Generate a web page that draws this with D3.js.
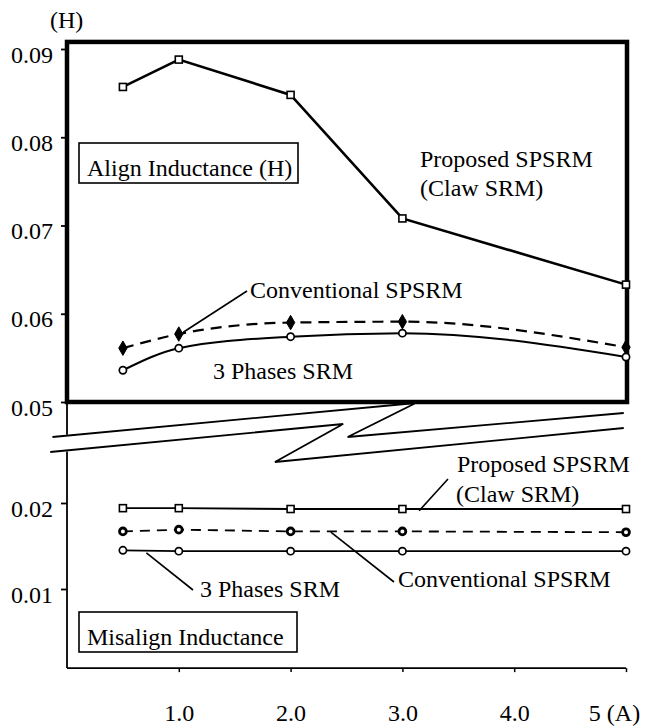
<!DOCTYPE html>
<html>
<head>
<meta charset="utf-8">
<script src="https://cdn.jsdelivr.net/npm/d3@7"></script>
<style>
  body { margin: 0; background: #fff; }
  svg text { font-family: "Liberation Serif", "Times New Roman", serif; font-size: 24px; fill: #000; }
</style>
</head>
<body>
<div id="chartArea"></div>
<script>
// Inductance vs current (A)
const currents = [0.5, 1, 2, 3, 5];

const alignProposed     = [0.0857, 0.0888, 0.0848, 0.0708, 0.0633];
const alignConventional = [0.0561, 0.0577, 0.0590, 0.0591, 0.0562];
const alignThreePhase   = [0.0536, 0.0561, 0.0574, 0.0578, 0.0551];

const misalignProposed     = [0.0194, 0.0194, 0.0193, 0.0193, 0.0193];
const misalignConventional = [0.0167, 0.0169, 0.0167, 0.0167, 0.0166];
const misalignThreePhase   = [0.0145, 0.0144, 0.0144, 0.0144, 0.0144];

const upperTicks = [0.05, 0.06, 0.07, 0.08, 0.09];
const lowerTicks = [0.01, 0.02];
const xTicks = [1, 2, 3, 4, 5];
const xTickLabels = ['1.0', '2.0', '3.0', '4.0', '5 (A)'];

function drawGraph() {
    let width = 646, height = 728;

    let svg = d3.select('#chartArea')
        .append('svg')
            .attr('width', width)
            .attr('height', height);

    let xScale = d3.scaleLinear().domain([0, 5]).range([67, 626]);
    // upper panel (align)
    let yUp = d3.scaleLinear().domain([0.05, 0.09]).range([402, 49]);
    // lower panel (misalign)
    let yLow = d3.scaleLinear().domain([0.01, 0.02]).range([589, 503]);

    let upTop = yUp(0.0908), upBottom = yUp(0.05);
    let lowBase = yLow(0.0008);
    let x0 = xScale(0), xEnd = xScale(5) + 1;

    let zip = (vals) => currents.map((c, i) => ({x: c, v: vals[i]}));

    // ---- break symbol (two zig-zag lines between the panels)
    let breakTop = [[-0.13, 35], [3.12, 1], [2.51, 35], [4.98, 11]];
    let breakBottom = [[-0.15, 50], [2.47, 22], [1.86, 60], [4.98, 26]];
    let toPx = pts => pts.map(p => [xScale(p[0]), upBottom + p[1]]);
    let bt = toPx(breakTop), bb = toPx(breakBottom);
    let yAt = (a, b, xx) => a[1] + (xx - a[0]) * (b[1] - a[1]) / (b[0] - a[0]);

    // lower left axis, interrupted by the break
    svg.append('line')
        .attr('x1', x0).attr('x2', x0)
        .attr('y1', upBottom).attr('y2', yAt(bt[0], bt[1], x0) - 1)
        .attr('stroke', '#000').attr('stroke-width', 1.8);
    svg.append('line')
        .attr('x1', x0).attr('x2', x0)
        .attr('y1', yAt(bb[0], bb[1], x0) + 1).attr('y2', lowBase)
        .attr('stroke', '#000').attr('stroke-width', 1.8);

    [bt, bb].forEach(pts => {
        svg.append('path')
            .attr('d', d3.line()(pts))
            .attr('fill', 'none')
            .attr('stroke', '#000')
            .attr('stroke-width', 1.8)
            .attr('stroke-linejoin', 'miter');
    });

    // bottom axis
    svg.append('line')
        .attr('x1', x0).attr('x2', xScale(5))
        .attr('y1', lowBase).attr('y2', lowBase)
        .attr('stroke', '#000').attr('stroke-width', 1.8);

    let xAxis = svg.append('g')
        .attr('transform', 'translate(0,' + lowBase + ')')
        .call(d3.axisBottom(xScale)
            .tickValues(xTicks)
            .tickSize(4)
            .tickFormat((d, i) => xTickLabels[i]));
    xAxis.select('.domain').remove();
    xAxis.selectAll('line').attr('stroke-width', 1.5);
    xAxis.selectAll('text')
        .attr('y', 53).attr('dy', 0)
        .attr('dx', (d, i) => i === xTicks.length - 1 ? -12 : 0)
        .style('font-size', '24px')
        .style('font-family', '"Liberation Serif", "Times New Roman", serif');

    // y axes
    let upAxis = svg.append('g')
        .attr('transform', 'translate(' + x0 + ',0)')
        .call(d3.axisLeft(yUp).tickValues(upperTicks).tickSize(6).tickPadding(8)
            .tickFormat(d3.format('.2f')));
    let lowAxis = svg.append('g')
        .attr('transform', 'translate(' + x0 + ',0)')
        .call(d3.axisLeft(yLow).tickValues(lowerTicks).tickSize(6).tickPadding(8)
            .tickFormat(d3.format('.2f')));
    [upAxis, lowAxis].forEach(g => {
        g.select('.domain').remove();
        g.selectAll('line').attr('stroke-width', 1.8);
        g.selectAll('text')
            .attr('dy', '0.55em')
            .style('font-size', '24px')
            .style('font-family', '"Liberation Serif", "Times New Roman", serif');
    });

    svg.append('text').attr('x', 50).attr('y', 28).text('(H)');

    // ---- upper series
    let lineUp = d3.line().x(d => xScale(d.x)).y(d => yUp(d.v));
    let curveUp = d3.line().x(d => xScale(d.x)).y(d => yUp(d.v)).curve(d3.curveMonotoneX);
    let lineLow = d3.line().x(d => xScale(d.x)).y(d => yLow(d.v));

    svg.append('path').attr('d', lineUp(zip(alignProposed)))
        .attr('fill', 'none').attr('stroke', '#000').attr('stroke-width', 2.6);
    svg.append('path').attr('d', curveUp(zip(alignConventional)))
        .attr('fill', 'none').attr('stroke', '#000').attr('stroke-width', 2.2)
        .attr('stroke-dasharray', '11,7');
    svg.append('path').attr('d', curveUp(zip(alignThreePhase)))
        .attr('fill', 'none').attr('stroke', '#000').attr('stroke-width', 2);

    // ---- lower series
    svg.append('path').attr('d', lineLow(zip(misalignProposed)))
        .attr('fill', 'none').attr('stroke', '#000').attr('stroke-width', 1.8);
    svg.append('path').attr('d', lineLow(zip(misalignConventional)))
        .attr('fill', 'none').attr('stroke', '#000').attr('stroke-width', 1.8)
        .attr('stroke-dasharray', '10,7');
    svg.append('path').attr('d', lineLow(zip(misalignThreePhase)))
        .attr('fill', 'none').attr('stroke', '#000').attr('stroke-width', 1.8);

    // upper box (thick frame)
    svg.append('rect')
        .attr('x', x0).attr('y', upTop)
        .attr('width', xEnd - x0).attr('height', upBottom - upTop)
        .attr('fill', 'none').attr('stroke', '#000').attr('stroke-width', 4.5);

    // ---- markers
    function squares(vals, y) {
        svg.selectAll(null).data(zip(vals)).enter().append('rect')
            .attr('x', d => xScale(d.x) - 3.5).attr('y', d => y(d.v) - 3.5)
            .attr('width', 7).attr('height', 7)
            .attr('fill', '#fff').attr('stroke', '#000').attr('stroke-width', 1.6);
    }
    function circles(vals, y, r, sw) {
        svg.selectAll(null).data(zip(vals)).enter().append('circle')
            .attr('cx', d => xScale(d.x)).attr('cy', d => y(d.v)).attr('r', r)
            .attr('fill', '#fff').attr('stroke', '#000').attr('stroke-width', sw);
    }
    function diamonds(vals, y) {
        svg.selectAll(null).data(zip(vals)).enter().append('path')
            .attr('d', d3.symbol().type(d3.symbolDiamond).size(60))
            .attr('transform', d => 'translate(' + xScale(d.x) + ',' + y(d.v) + ')')
            .attr('fill', '#000').attr('stroke', '#000').attr('stroke-width', 1);
    }

    squares(alignProposed, yUp);
    diamonds(alignConventional, yUp);
    circles(alignThreePhase, yUp, 3.6, 1.7);

    squares(misalignProposed, yLow);
    circles(misalignConventional, yLow, 3.4, 2.8);
    circles(misalignThreePhase, yLow, 3.6, 1.7);

    // ---- annotations
    function label(txt, x, y) {
        svg.append('text').attr('x', x).attr('y', y).text(txt);
    }
    function leader(x1, y1, x2, y2) {
        svg.append('line')
            .attr('x1', x1).attr('y1', y1).attr('x2', x2).attr('y2', y2)
            .attr('stroke', '#000').attr('stroke-width', 1.6);
    }
    function boxedLabel(txt, x, y, w, h) {
        svg.append('rect').attr('x', x).attr('y', y).attr('width', w).attr('height', h)
            .attr('fill', '#fff').attr('stroke', '#000').attr('stroke-width', 1.6);
        svg.append('text').attr('x', x + 8).attr('y', y + h - 7).text(txt);
    }

    boxedLabel('Align Inductance (H)', 79, 143, 219, 40);
    label('Proposed SPSRM', 420, 167);
    label('(Claw SRM)', 420, 196);
    label('Conventional SPSRM', 250, 298);
    leader(247, 291, xScale(1.04), yUp(0.0579));
    label('3 Phases SRM', 213, 379);

    label('Proposed SPSRM', 457, 472);
    label('(Claw SRM)', 456, 502);
    leader(448, 479, xScale(3.15), yLow(0.0191));
    label('Conventional SPSRM', 398, 587);
    leader(394, 582, xScale(2.36), yLow(0.0166));
    label('3 Phases SRM', 200, 597);
    leader(193, 590, xScale(0.71), yLow(0.0142));

    boxedLabel('Misalign Inductance', 79, 612, 218, 40);
}

drawGraph();
</script>
</body>
</html>
